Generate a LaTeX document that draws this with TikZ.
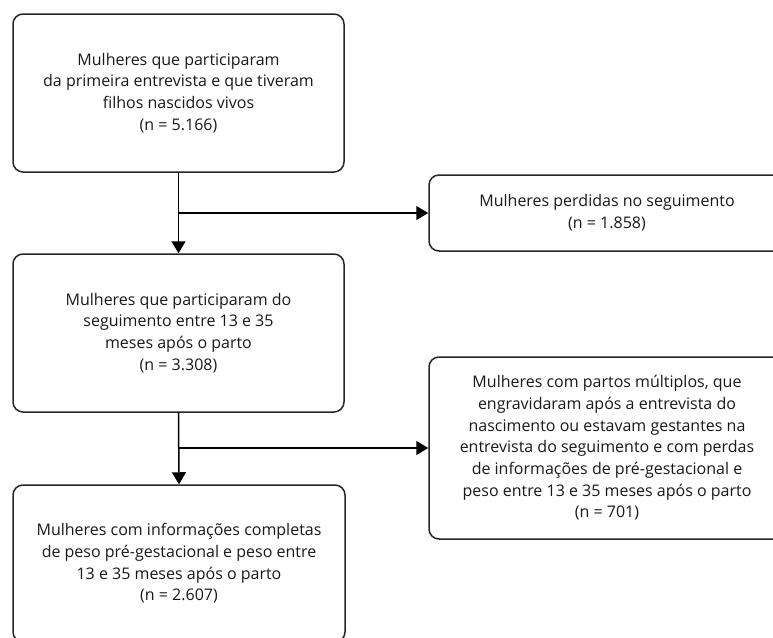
\documentclass[tikz,border=0pt]{standalone}
\usepackage{fontspec}
\setmainfont{Open Sans}
\usetikzlibrary{arrows.meta}
\begin{document}
\begin{tikzpicture}[x=1pt,y=-1pt,
  box/.style={draw=black!85, line width=1.5pt, rounded corners=10pt, align=center,
    font=\fontsize{16}{21.7}\selectfont, text=black!90, inner sep=0pt},
  arr/.style={line width=1.5pt, -{Triangle[length=12pt,width=14pt]}}]
\useasboundingbox (0,0) rectangle (773,637);
\clip (0,0) rectangle (773,637);
\node[box, minimum width=331pt, minimum height=158pt] (b1) at (178.5,93)
  {Mulheres que participaram\\da primeira entrevista e que tiveram\\filhos nascidos vivos\\(n = 5.166)};
\node[box, minimum width=356pt, minimum height=76pt] (b2) at (607,213)
  {Mulheres perdidas no seguimento\\(n = 1.858)};
\node[box, minimum width=331pt, minimum height=158pt] (b3) at (178.5,333)
  {Mulheres que participaram do\\seguimento entre 13 e 35\\meses após o parto\\(n = 3.308)};
\node[box, minimum width=356pt, minimum height=182pt] (b4) at (607,448)
  {Mulheres com partos múltiplos, que\\engravidaram após a entrevista do\\nascimento ou estavam gestantes na\\entrevista do seguimento e com perdas\\de informações de pré-gestacional e\\peso entre 13 e 35 meses após o parto\\(n = 701)};
\node[box, minimum width=332pt, minimum height=157pt] (b5) at (179,563.5)
  {Mulheres com informações completas\\de peso pré-gestacional e peso entre\\13 e 35 meses após o parto\\(n = 2.607)};
\draw[arr] (b1.south) -- (b3.north);
\draw[arr] (b1.south |- b2.west) -- (b2.west);
\draw[arr] (b3.south) -- (b5.north);
\draw[arr] (b3.south |- b4.west) -- (b4.west);
\end{tikzpicture}
\end{document}
